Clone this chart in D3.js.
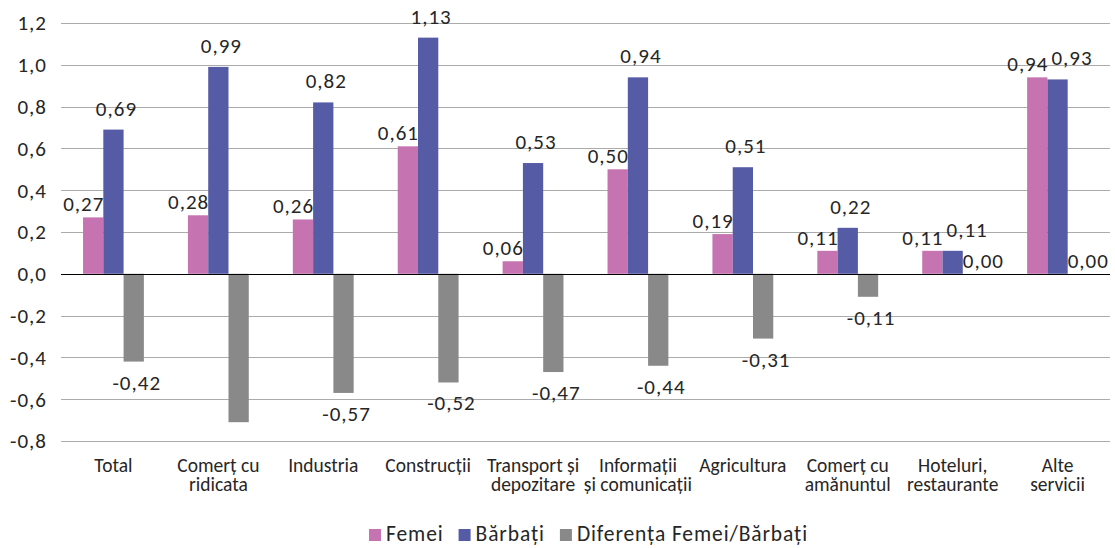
<!DOCTYPE html>
<html>
<head>
<meta charset="utf-8">
<script src="https://cdn.jsdelivr.net/npm/d3@7"></script>
<style>
  body { margin: 0; background: #fff; }
  text { font-family: Carlito, Lato, "Open Sans", sans-serif; fill: #262626; }
</style>
</head>
<body>
<div id="chart"></div>
<script>
const categories = ["Total", "Comerț cu\nridicata", "Industria", "Construcții", "Transport și\ndepozitare",
    "Informații\nși comunicații", "Agricultura", "Comerț cu\namănuntul", "Hoteluri,\nrestaurante", "Alte\nservicii"];
const femei = [0.27, 0.28, 0.26, 0.61, 0.06, 0.50, 0.19, 0.11, 0.11, 0.94];
const barbati = [0.69, 0.99, 0.82, 1.13, 0.53, 0.94, 0.51, 0.22, 0.11, 0.93];
const diferenta = [-0.42, -0.71, -0.57, -0.52, -0.47, -0.44, -0.31, -0.11, 0.00, 0.00];
const seriesNames = ["Femei", "Bărbați", "Diferența Femei/Bărbați"];
const yTicks = [-0.8, -0.6, -0.4, -0.2, 0, 0.2, 0.4, 0.6, 0.8, 1.0, 1.2];

const colors = ["#c574b1", "#565ba6", "#898989"];

const W = 1115, H = 548;
const margin = { top: 23, right: 5, bottom: 107, left: 61 };
const width = W - margin.left - margin.right;
const height = H - margin.top - margin.bottom;

const svg = d3.select("#chart")
    .append("svg")
    .attr("width", W)
    .attr("height", H)
    .append("g")
    .attr("transform", `translate(${margin.left},${margin.top})`);

const fmt = v => d3.format(".2f")(v).replace(".", ",").replace("−", "-");
const fmtTick = v => d3.format(".1f")(v).replace(".", ",").replace("−", "-");

// scales
const x = d3.scaleBand()
    .domain(categories)
    .range([0, width]);

const x1 = d3.scaleBand()
    .domain(seriesNames)
    .range([x.bandwidth() * 0.21, x.bandwidth() * 0.79]);

const y = d3.scaleLinear()
    .domain([-0.8, 1.2])
    .range([height, 0]);

// grid lines
svg.append("g")
    .selectAll("line")
    .data(yTicks)
    .enter()
    .append("line")
    .attr("x1", 0)
    .attr("x2", width)
    .attr("y1", d => Math.round(y(d)) + 0.5)
    .attr("y2", d => Math.round(y(d)) + 0.5)
    .attr("stroke", "#ababab")
    .attr("stroke-width", 1);

// y tick labels
svg.append("g")
    .selectAll("text")
    .data(yTicks)
    .enter()
    .append("text")
    .attr("x", -14)
    .attr("y", d => y(d))
    .attr("dy", "0.35em")
    .attr("text-anchor", "end")
    .style("font-size", "21px")
    .style("letter-spacing", "1px")
    .text(fmtTick);

// bars
const seriesData = [femei, barbati, diferenta];
const bars = [];
seriesData.forEach((vals, s) => {
    vals.forEach((v, i) => bars.push({ cat: categories[i], series: seriesNames[s], s: s, value: v, i: i }));
});

svg.append("g")
    .selectAll("rect")
    .data(bars.filter(d => d.value !== 0))
    .enter()
    .append("rect")
    .attr("x", d => x(d.cat) + x1(d.series))
    .attr("y", d => y(Math.max(0, d.value)))
    .attr("width", x1.bandwidth())
    .attr("height", d => Math.abs(y(d.value) - y(0)))
    .attr("fill", d => colors[d.s]);

// zero line
svg.append("line")
    .attr("x1", 0)
    .attr("x2", width)
    .attr("y1", Math.round(y(0)) + 0.5)
    .attr("y2", Math.round(y(0)) + 0.5)
    .attr("stroke", "#000")
    .attr("stroke-width", 1);

// data labels (the -0,71 label is not shown in the original)
const barLeft = d => x(d.cat) + x1(d.series);
const labels = svg.append("g")
    .selectAll("text")
    .data(bars.filter(d => d.value > -0.7))
    .enter()
    .append("text")
    .attr("x", d => {
        if (d.value === 0) return barLeft(d);
        if (d.s === 0) return barLeft(d) + x1.bandwidth() + 1;
        return barLeft(d) + x1.bandwidth() / 2 + 3;
    })
    .attr("y", d => {
        if (d.value < 0) return y(d.value) + 28;
        if (d.value === 0) return y(0) - 6;
        return y(d.value) - (d.s === 0 ? 6 : 14);
    })
    .attr("text-anchor", d => d.value === 0 ? "start" : (d.s === 0 ? "end" : "middle"))
    .style("font-size", "21px")
    .style("letter-spacing", "1px")
    .text(d => fmt(d.value));

// push a Bărbați label right when it runs into the Femei label of the same group
labels.filter(d => d.s === 1).each(function (d) {
    const other = labels.filter(o => o.s === 0 && o.i === d.i).node();
    if (!other) return;
    const a = this.getBBox(), b = other.getBBox();
    const overlapY = a.y < b.y + b.height && b.y < a.y + a.height;
    if (overlapY && a.x < b.x + b.width + 3) {
        d3.select(this)
            .attr("text-anchor", "start")
            .attr("x", b.x + b.width + 3);
    }
});

// category labels
const catLabels = svg.append("g")
    .selectAll("text")
    .data(categories)
    .enter()
    .append("text")
    .attr("x", d => x(d) + x.bandwidth() / 2)
    .attr("y", height + 31)
    .attr("text-anchor", "middle")
    .style("font-size", "19.5px");

catLabels.selectAll("tspan")
    .data(d => d.split("\n"))
    .enter()
    .append("tspan")
    .attr("x", function () { return d3.select(this.parentNode).attr("x"); })
    .attr("dy", (d, i) => i === 0 ? 0 : 19)
    .text(d => d);

// legend
const legend = svg.append("g")
    .attr("transform", `translate(0, ${H - margin.top - 7})`);

let lx = 308;
seriesNames.forEach((name, s) => {
    const g = legend.append("g").attr("transform", `translate(${lx},0)`);
    g.append("rect")
        .attr("x", 0)
        .attr("y", -12)
        .attr("width", 12)
        .attr("height", 12)
        .attr("fill", colors[s]);
    const t = g.append("text")
        .attr("x", 17)
        .attr("y", 0)
        .style("font-size", "21.5px")
        .style("letter-spacing", "0.9px")
        .text(name);
    lx += 17 + t.node().getComputedTextLength() + 15;
});
</script>
</body>
</html>
